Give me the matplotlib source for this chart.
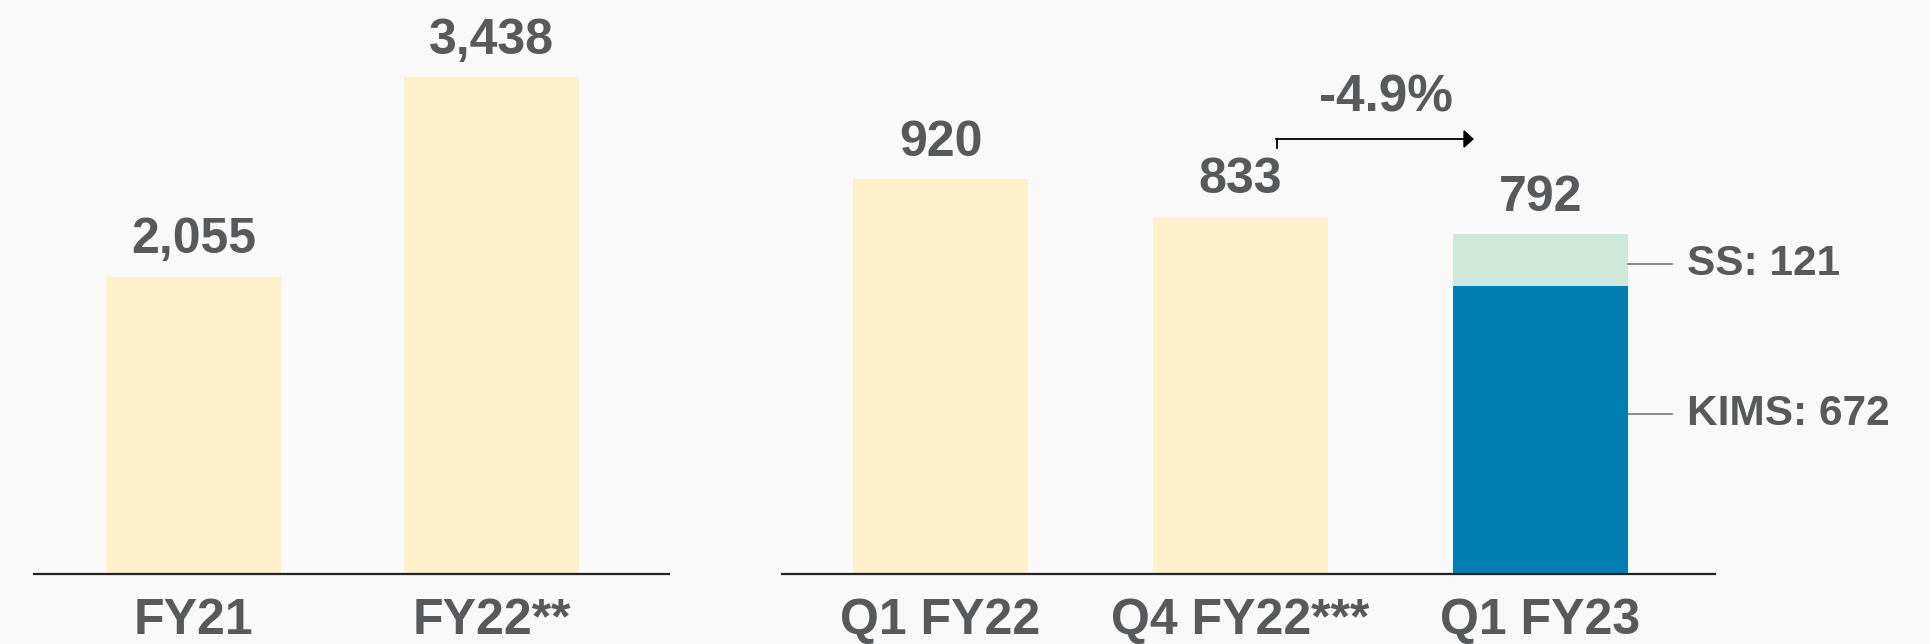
import numpy as np
import matplotlib.pyplot as plt

# annual revenue
years = ["FY21", "FY22**"]
annual = [2055, 3438]

# quarterly revenue
quarters = ["Q1 FY22", "Q4 FY22***", "Q1 FY23"]
quarterly = [920, 833, 792]
kims_q1fy23 = 672
ss_q1fy23 = 121
change_label = "-4.9%"

CREAM = "#fef0cb"
BLUE = "#007db1"
MINT = "#cde8d8"
GREY = "#58595b"
BG = "#f9f9f9"

plt.rcParams['font.family'] = ['Liberation Sans', 'DejaVu Sans']
plt.rcParams['font.weight'] = 'bold'

fig = plt.figure(figsize=(19.31, 6.44), dpi=100, facecolor=BG)
ax1 = fig.add_axes([0.0176, 0.1087, 0.3289, 0.8913])
ax2 = fig.add_axes([0.405, 0.1087, 0.4832, 0.8913])

W = 0.585


def style(ax, labels):
    ax.set_facecolor(BG)
    for s in ["left", "right", "top"]:
        ax.spines[s].set_visible(False)
    ax.spines["bottom"].set_linewidth(1.6)
    ax.spines["bottom"].set_color("#222222")
    ax.set_yticks([])
    ax.set_xticks(range(len(labels)))
    ax.set_xticklabels(labels, fontsize=36, fontweight='bold', color=GREY)
    ax.tick_params(axis='x', length=0, pad=17)


def value_label(ax, x, y, txt):
    ax.annotate(txt, (x, y), xytext=(0, 17), textcoords='offset points',
                ha='center', va='baseline', fontsize=36, fontweight='bold', color=GREY)


# left panel
x1 = np.arange(len(years))
ax1.bar(x1, annual, width=W, color=CREAM)
for x, v in zip(x1, annual):
    value_label(ax1, x, v, f"{v:,}")
ax1.set_xlim(-0.535, 1.596)
ax1.set_ylim(0, 3972)
style(ax1, years)

# right panel
x2 = np.arange(len(quarters))
ax2.bar(x2[:2], quarterly[:2], width=W, color=CREAM)
ax2.bar(x2[2], kims_q1fy23, width=W, color=BLUE)
ax2.bar(x2[2], quarterly[2] - kims_q1fy23, bottom=kims_q1fy23, width=W, color=MINT)
for x, v in zip(x2, quarterly):
    value_label(ax2, x, v, f"{v:,}")
ax2.set_xlim(-0.528, 2.582)
ax2.set_ylim(0, 1338)
style(ax2, quarters)

# segment callouts
right_edge = x2[2] + W / 2
ss_y = kims_q1fy23 + (quarterly[2] - kims_q1fy23) * 0.42
kims_y = kims_q1fy23 * 0.555
for y, txt in [(ss_y, f"SS: {ss_q1fy23}"), (kims_y, f"KIMS: {kims_q1fy23}")]:
    ax2.plot([right_edge, right_edge + 0.147], [y, y], color="#777777", lw=1.2, clip_on=False)
    ax2.text(right_edge + 0.197, y, txt, ha='left', va='center', fontsize=30.5,
             fontweight='bold', color=GREY)

# change arrow Q4 FY22 -> Q1 FY23
ax2.plot([1.122, 1.122], [993, 1014], color="black", lw=1.3)
ax2.annotate("", xy=(1.778, 1014), xytext=(1.118, 1014),
             arrowprops=dict(arrowstyle="-|>,head_length=0.6,head_width=0.55",
                             color="black", lw=1.3, shrinkA=0, shrinkB=0))
ax2.text(1.485, 1079, change_label, ha='center', va='baseline', fontsize=37,
         fontweight='bold', color=GREY)

fig.savefig("out.png", dpi=100, facecolor=BG)
